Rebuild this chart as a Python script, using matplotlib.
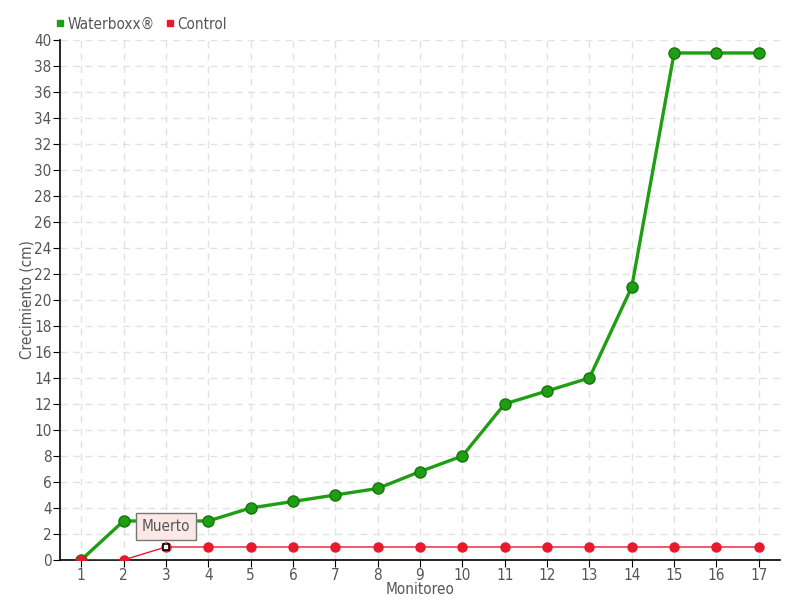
import numpy as np
from matplotlib import pyplot as plt
from matplotlib.lines import Line2D

# Data
monitoreo = list(range(1, 18))
waterboxx = [0, 3, 3, 3, 4, 4.5, 5, 5.5, 6.8, 8, 12, 13, 14, 21, 39, 39, 39]
control = [0, 0, 1, 1, 1, 1, 1, 1, 1, 1, 1, 1, 1, 1, 1, 1, 1]

green = '#1f9e14'
red = '#e8192c'
txt = '#555555'

plt.rcParams['font.family'] = 'DejaVu Sans'
plt.rcParams['font.stretch'] = 'condensed'

fig = plt.figure(figsize=(8, 6), dpi=100)
ax = fig.add_axes([0.075, 0.0667, 0.9, 0.8667])

# Series
ax.plot(monitoreo, waterboxx, color=green, lw=2.4, marker='o', ms=8,
        mfc=green, mec='#17750f', mew=1, zorder=3)
ax.plot(monitoreo, control, color=red, lw=1, marker='o', ms=6.5,
        mfc=red, mec=red, zorder=4)

# Highlighted point "Muerto"
ax.plot(3, control[2], marker='s', ms=5, mfc='white', mec='black', mew=1.2, zorder=5)
ax.annotate('Muerto', xy=(3, control[2]), xytext=(3, 2.6), ha='center', va='center',
            fontsize=11, color=txt,
            bbox=dict(boxstyle='square,pad=0.4', fc='#fde8e8', ec='#777777', lw=1),
            arrowprops=dict(arrowstyle='-', color='#777777', lw=0.8), zorder=6)

ax.set_xlim(0.5, 17.5)
ax.set_ylim(0, 40)
ax.set_xticks(monitoreo)
ax.set_yticks(np.arange(0, 41, 2))
ax.grid(True, ls=(0, (5, 4)), color='#e2e2e2', lw=1)
ax.set_axisbelow(True)

for s in ['top', 'right']:
    ax.spines[s].set_visible(False)
for s in ['left', 'bottom']:
    ax.spines[s].set_color('black')
    ax.spines[s].set_linewidth(1.2)
ax.tick_params(direction='out', length=5, pad=1, color='black', labelcolor=txt, labelsize=11)

ax.set_xlabel('Monitoreo', color=txt, fontsize=11, labelpad=-1)
ax.set_ylabel('Crecimiento (cm)', color=txt, fontsize=11, labelpad=0)

handles = [Line2D([], [], ls='', marker='s', ms=5, color=green),
           Line2D([], [], ls='', marker='s', ms=5, color=red)]
fig.legend(handles, ['Waterboxx®', 'Control'], loc='upper left',
           bbox_to_anchor=(0.05, 0.995), ncol=2, frameon=False, fontsize=11,
           handletextpad=0.1, columnspacing=0.6, handlelength=0.8,
           labelcolor=txt)

fig.savefig('out.png', dpi=100)
